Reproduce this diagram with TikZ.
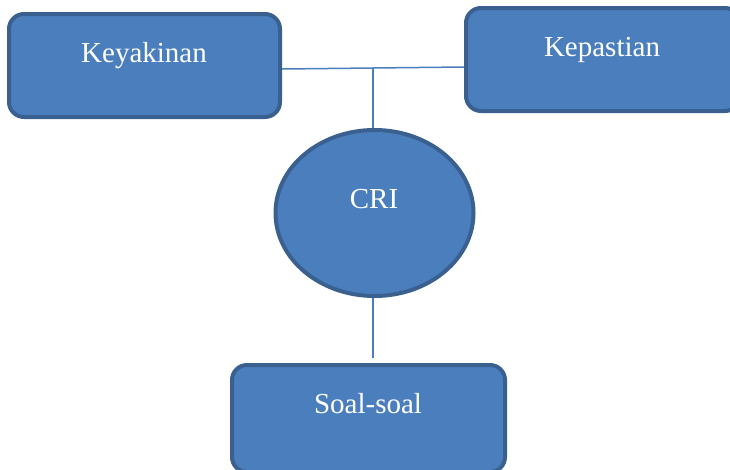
\documentclass[tikz,border=0pt]{standalone}
\usepackage{fontspec}
\setmainfont{Liberation Serif}
\usetikzlibrary{calc,shapes.geometric}
\definecolor{boxfill}{HTML}{4A7EBD}
\definecolor{boxline}{HTML}{3A6090}
\definecolor{linkline}{HTML}{4A7EBD}
\begin{document}
\begin{tikzpicture}[x=1pt,y=-1pt,
  box/.style={draw=boxline,fill=boxfill,line width=4pt,rounded corners=15pt,
    rectangle,inner sep=0pt},
  oval/.style={draw=boxline,fill=boxfill,line width=4pt,ellipse,inner sep=0pt,
    minimum width=198pt,minimum height=166pt},
  caption/.style={text=white,anchor=base,inner sep=0pt,
    font=\fontsize{29}{34}\selectfont},
  link/.style={draw=linkline,line width=1.5pt}]
\useasboundingbox (0,0) rectangle (730,469);
% shapes
\node[box,minimum width=271pt,minimum height=103pt] (keyakinan) at (144.5,65.5) {};
\node[box,minimum width=274pt,minimum height=103pt] (kepastian) at (603,59.5) {};
\node[oval] (cri) at (374.5,213) {};
\node[box,minimum width=273pt,minimum height=107pt] (soal) at (368.5,418.5) {};
% captions
\node[caption] (keyakinan-text) at (144,62) {Keyakinan};
\node[caption] (kepastian-text) at (602,56) {Kepastian};
\node[caption] (cri-text) at (374,208) {CRI};
\node[caption] (soal-text) at (368,413) {Soal-soal};
% connectors
\coordinate (left-end) at ($(keyakinan.east)+(0,3.5)$);
\coordinate (right-end) at ($(kepastian.west)+(0,7.5)$);
\coordinate (junction) at ($(left-end)!0.5!(right-end)$);
\coordinate (tail) at (373,358);
\draw[link] (left-end) -- (right-end);
\draw[link] (junction) -- (junction |- cri.north);
\draw[link] (tail |- cri.south) -- (tail);
\end{tikzpicture}
\end{document}
